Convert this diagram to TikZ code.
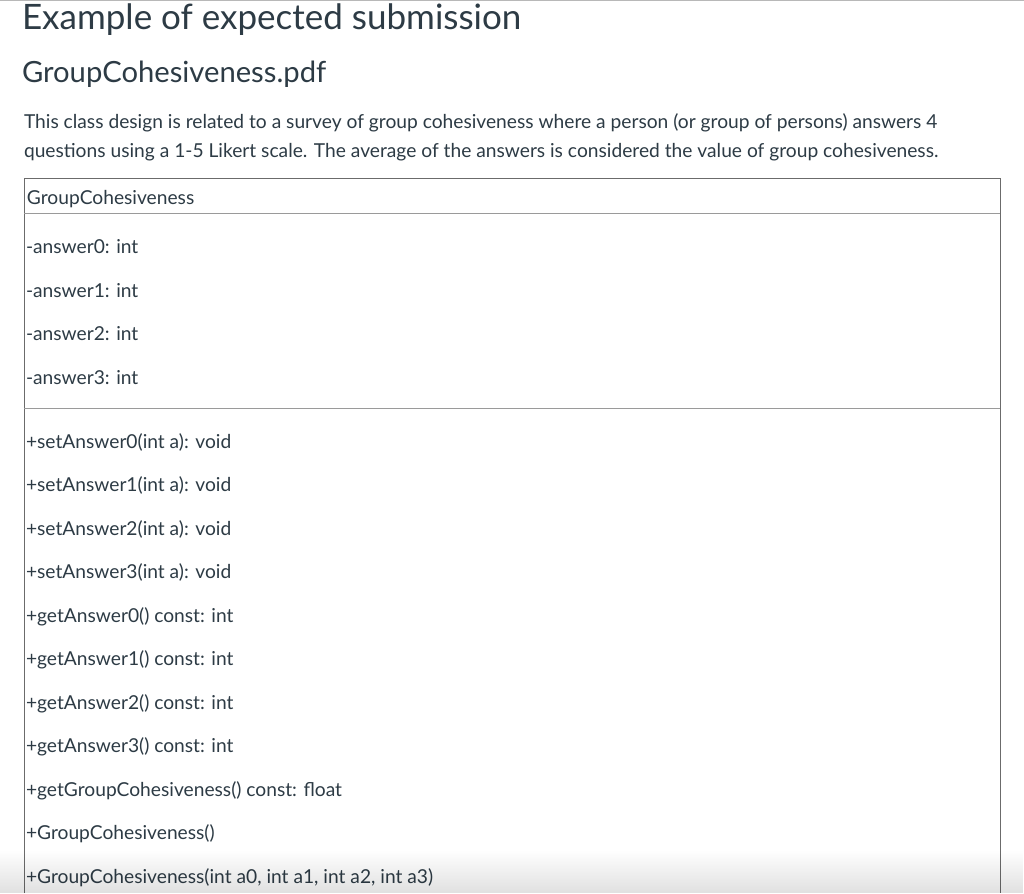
\documentclass[tikz,border=0pt]{standalone}
\usepackage{fontspec}
\setmainfont{Lato}
\usetikzlibrary{fadings}
\definecolor{txt}{HTML}{2D3B45}
\definecolor{boxline}{HTML}{6B6B6B}
\definecolor{sepline}{HTML}{9A9A9A}
\begin{document}
\begin{tikzpicture}[x=1pt,y=-1pt,
  every node/.style={inner sep=0pt, outer sep=0pt, text=txt, anchor=base west},
  rowtext/.style={font=\fontsize{19.2}{22}\selectfont},
  para/.style={font=\fontsize{19.2}{22}\selectfont}]
\useasboundingbox (0,0) rectangle (1024,893);
\fill[white] (0,0) rectangle (1024,893);
\draw[black!28, line width=1.5pt] (0,0.75) -- (1024,0.75);
% titles
\node (title) at (22,30) {\fontsize{35}{40}\selectfont Example of expected submission};
\node (sub) at (22,82.5) {\fontsize{29.2}{32}\selectfont GroupCohesiveness.pdf};
\node[para] (p1) at (24,128.5) {This class design is related to a survey of group cohesiveness where a person (or group of persons) answers 4};
\node[para] (p2) at (24,157.5) {questions using a 1-5 Likert scale. The average of the answers is considered the value of group cohesiveness.};
% class box
\coordinate (tl) at (24,178.5);
\coordinate (tr) at (1000,178.5);
\coordinate (bl) at (24,893);
\coordinate (br) at (1000,893);
\draw[boxline, line width=1pt] (bl) -- (tl) -- (tr) -- (br);
\draw[sepline, line width=1pt] (24,213.5) -- (1000,213.5);
\draw[sepline, line width=1pt] (24,408) -- (1000,408);
\node[rowtext] (cname) at (27,205) {GroupCohesiveness};
\node[rowtext] (a0) at (26,253.5) {-answer0: int};
\node[rowtext] (a1) at (26,297) {-answer1: int};
\node[rowtext] (a2) at (26,340.5) {-answer2: int};
\node[rowtext] (a3) at (26,384) {-answer3: int};
\node[rowtext] (m1) at (26,448) {+setAnswer0(int a): void};
\node[rowtext] (m2) at (26,491.5) {+setAnswer1(int a): void};
\node[rowtext] (m3) at (26,535) {+setAnswer2(int a): void};
\node[rowtext] (m4) at (26,578.5) {+setAnswer3(int a): void};
\node[rowtext] (m5) at (26,622) {+getAnswer0() const: int};
\node[rowtext] (m6) at (26,665.5) {+getAnswer1() const: int};
\node[rowtext] (m7) at (26,709) {+getAnswer2() const: int};
\node[rowtext] (m8) at (26,752.5) {+getAnswer3() const: int};
\node[rowtext] (m9) at (26,796) {+getGroupCohesiveness() const: float};
\node[rowtext] (m10) at (26,839.5) {+GroupCohesiveness()};
\node[rowtext] (m11) at (26,883) {+GroupCohesiveness(int a0, int a1, int a2, int a3)};
% bottom fade
\fill[black, opacity=0.12, path fading=north] (0,850) rectangle (1024,893);
\end{tikzpicture}
\end{document}
